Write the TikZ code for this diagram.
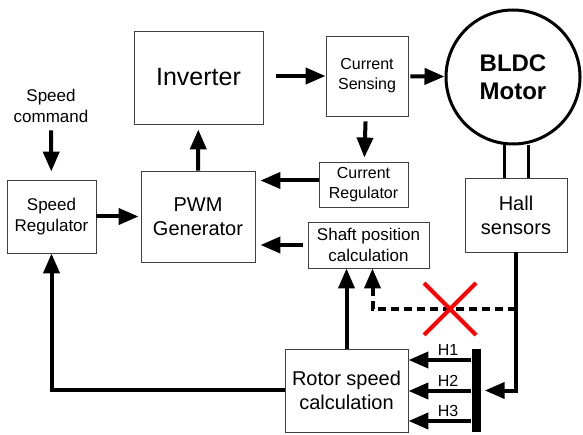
\documentclass[tikz,border=0pt]{standalone}
\usepackage{fontspec}
\setmainfont{Liberation Sans}
\usetikzlibrary{arrows.meta,calc}
\newcommand{\fs}[2]{\fontsize{#1}{#2}\selectfont}

\begin{document}
\begin{tikzpicture}[x=1pt,y=-1pt,
    box/.style={draw=black!75, line width=0.9pt, inner sep=0pt, align=center},
    flow/.style={line width=4pt, -{Triangle[length=20pt,width=16pt]}},
    link/.style={line width=3pt}]
    \useasboundingbox (0,0) rectangle (583,435);
    % blocks
    \node[box, minimum width=129, minimum height=93, font=\fs{25}{30}] (inv) at (198.5,77.5) {Inverter};
    \node[box, minimum width=89, minimum height=73, font=\fs{17}{21}] (spdreg) at (51.5,216.5) {Speed\\Regulator};
    \node[box, minimum width=114, minimum height=91, font=\fs{20}{24}] (pwm) at (198,216.5) {PWM\\Generator};
    \node[box, minimum width=82, minimum height=80, font=\fs{16}{20}] (cursens) at (367,76) {Current\\Sensing};
    \node[box, minimum width=89, minimum height=45, font=\fs{16}{20}] (curreg) at (363.5,184.5) {Current\\Regulator};
    \node[box, minimum width=121, minimum height=46, font=\fs{17}{21}] (shaft) at (368.5,245) {Shaft position\\calculation};
    \node[box, minimum width=123, minimum height=83, font=\fs{20}{24}] (rotor) at (346.5,390.5) {Rotor speed\\calculation};
    \node[box, minimum width=102, minimum height=74, font=\fs{20}{24}] (hall) at (516,215) {Hall\\sensors};
    \node[draw, circle, line width=3pt, minimum size=134, inner sep=0pt, align=center,
          font=\bfseries\fs{24}{28}] (motor) at (513,77) {BLDC\\Motor};
    \node[font=\fs{17}{21}, align=center] (cmd) at (51,106) {Speed\\command};
    \node[fill=black, minimum width=9, minimum height=83, inner sep=0pt] (bar) at (476,390.5) {};
    \coordinate (tap) at (hall.south |- 0,309);
    \coordinate (shaftin) at ([xshift=4]shaft.south);

    % shaft between motor and hall sensors
    \draw[link] ([xshift=-12]hall.north) -- ([xshift=-12]hall.north |- motor.south);
    \draw[link] ([xshift=12]hall.north) -- ([xshift=12]hall.north |- motor.south);

    % signal flow
    \draw[flow, shorten <=4pt, shorten >=8pt] (cmd) -- (spdreg);
    \draw[flow, shorten >=2pt] (spdreg) -- (pwm);
    \draw[flow, shorten >=5pt] (pwm) -- (inv);
    \draw[flow, shorten <=13pt] (inv.east |- cursens) -- (cursens);
    \draw[flow, shorten <=2pt] (cursens) -- (motor);
    \draw[flow, shorten <=5pt, shorten >=4pt] (cursens) -- (curreg);
    \draw[flow, shorten >=5pt] ([yshift=4]curreg.west) -- ([yshift=4]pwm.east |- curreg.west);
    \draw[flow, shorten <=5pt, shorten >=5pt] (shaft.west) -- (pwm.east |- shaft.west);
    \draw[flow] (rotor.north) -- (rotor.north |- shaft.south);
    \draw[flow] ([yshift=1]rotor.west) -| (spdreg.south);
    \draw[flow, shorten >=4pt] (hall.south) |- (bar.east);
    \draw[flow, dash pattern=on 8pt off 5pt] (tap) -| (shaftin);
    \foreach \i/\y in {1/360,2/391,3/421}
        \draw[flow] (bar.west |- 0,\y) -- (rotor.east |- 0,\y)
            node[pos=0.37, above=-1pt, font=\fs{16}{20}] {H\i};

    % sensor line removed
    \draw[red, line width=4pt] (424,283) -- (476,335) (476,283) -- (424,335);
\end{tikzpicture}
\end{document}
